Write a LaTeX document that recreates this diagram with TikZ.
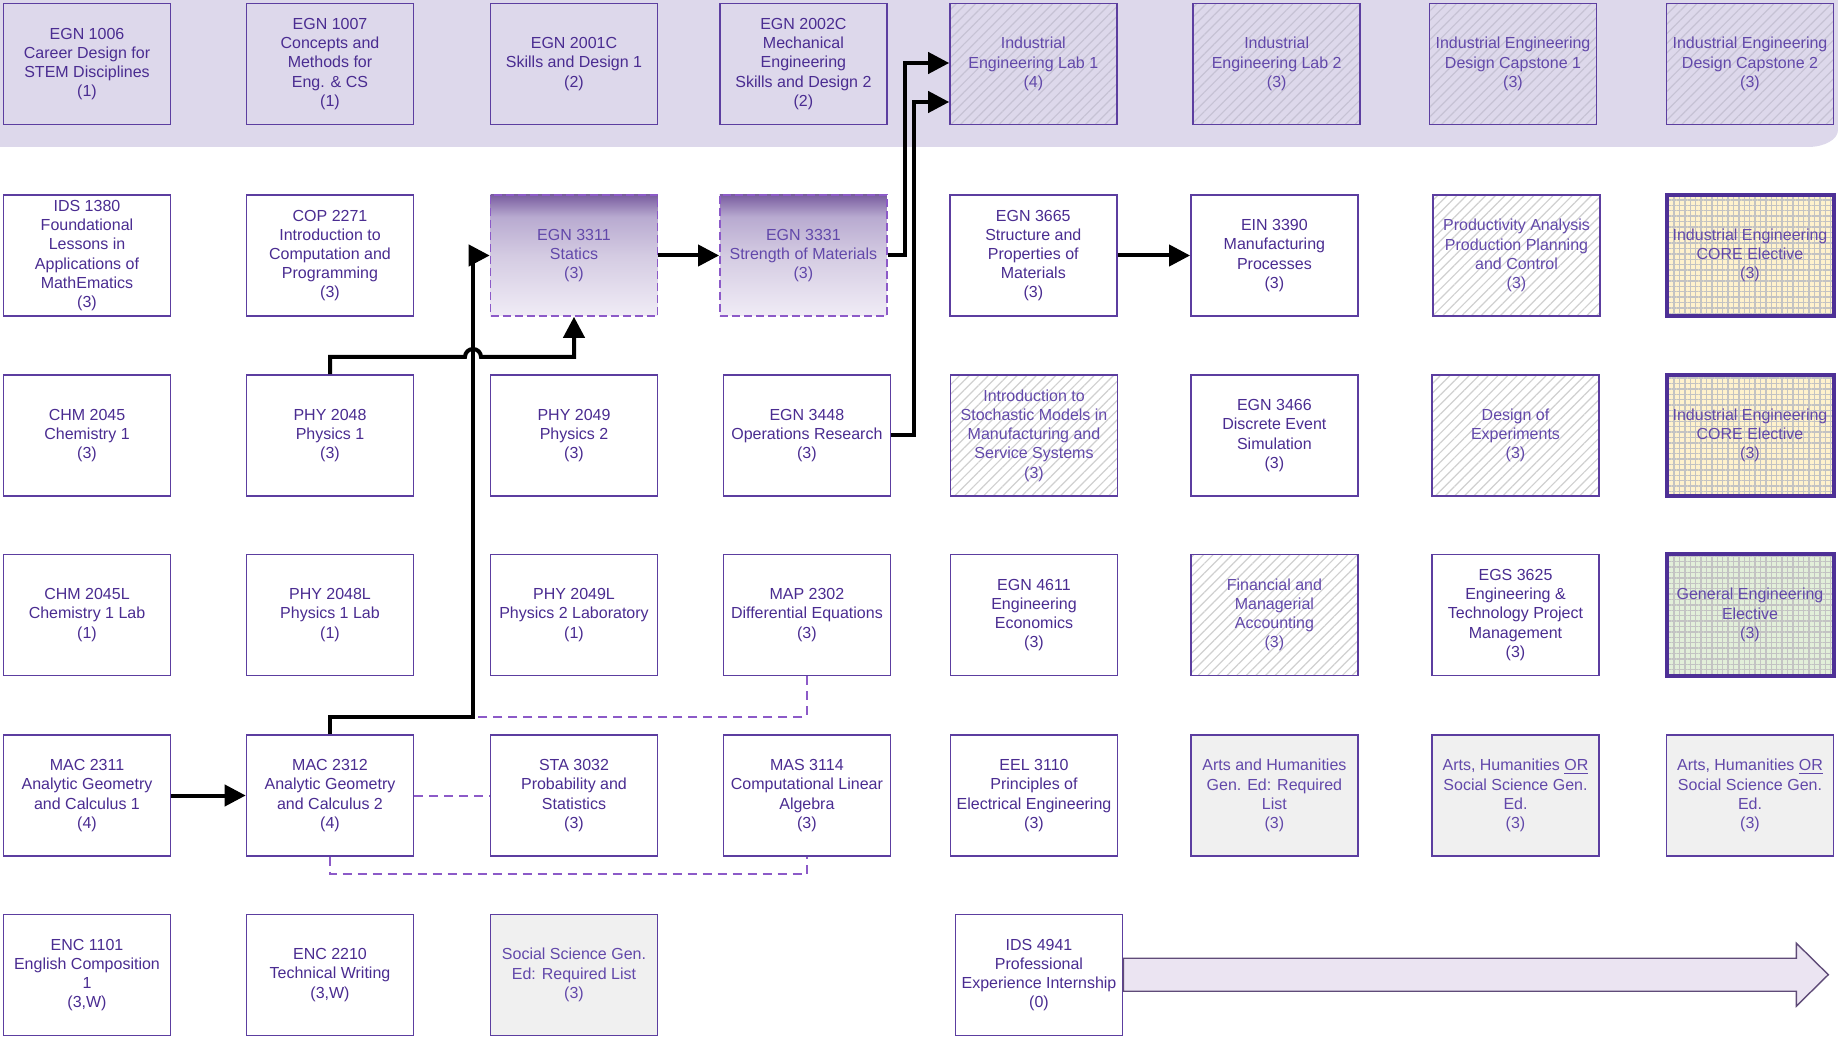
\documentclass[tikz,border=0pt]{standalone}
\usepackage{fontspec}
\setmainfont{Liberation Sans}
\usetikzlibrary{arrows.meta,patterns.meta}

\definecolor{bandfill}{RGB}{221,216,235}
\definecolor{courseline}{RGB}{92,62,160}
\definecolor{coursetext}{RGB}{74,44,145}
\definecolor{softtext}{RGB}{98,72,170}
\definecolor{hatchgrey}{RGB}{208,208,208}
\definecolor{bandhatch}{RGB}{198,194,212}
\definecolor{gridgrey}{RGB}{195,195,195}
\definecolor{coreyellow}{RGB}{255,242,204}
\definecolor{gegreen}{RGB}{226,239,217}
\definecolor{genedgrey}{RGB}{240,240,240}
\definecolor{electline}{RGB}{78,48,150}
\definecolor{coreqline}{RGB}{140,90,200}
\definecolor{gradtop}{RGB}{122,94,160}
\definecolor{gradupper}{RGB}{184,170,208}
\definecolor{gradmid}{RGB}{212,203,226}
\definecolor{gradbot}{RGB}{240,236,246}
\definecolor{internfill}{RGB}{235,228,242}
\definecolor{internline}{RGB}{95,75,120}

\pgfdeclareverticalshading{currentgrad}{100bp}{color(0bp)=(gradbot); color(25bp)=(gradbot); color(50bp)=(gradmid); color(66bp)=(gradupper); color(75bp)=(gradtop); color(100bp)=(gradtop)}

\tikzset{
  box/.style={draw=courseline, line width=0.8pt, text=coursetext, align=center,
    minimum width=83.5pt, minimum height=60.5pt, inner sep=1pt,
    font=\fontsize{8}{9.6}\selectfont},
  course/.style={box, fill=white},
  seminar/.style={box, fill=bandfill},
  labbox/.style={box, text=softtext, preaction={fill=bandfill},
    pattern={Lines[angle=45,distance=3.4pt,line width=0.6pt]}, pattern color=bandhatch},
  hatchbox/.style={box, text=softtext, preaction={fill=white},
    pattern={Lines[angle=45,distance=3.4pt,line width=0.6pt]}, pattern color=hatchgrey},
  currentbox/.style={box, text=softtext, draw=coreqline, dash pattern=on 4pt off 2pt,
    shade, shading=currentgrad},
  corebox/.style={box, text=softtext, draw=electline, line width=2pt, preaction={fill=coreyellow},
    pattern={Hatch[angle=0,distance=2.7pt,line width=0.7pt]}, pattern color=gridgrey},
  gebox/.style={corebox, preaction={fill=gegreen}},
  genedbox/.style={box, text=softtext, fill=genedgrey},
  prereq/.style={line width=2pt, -{Triangle[length=10.5pt,width=10.5pt]}},
  coreq/.style={draw=coreqline, line width=1pt, dash pattern=on 4.5pt off 3pt},
}

\begin{document}
\begin{tikzpicture}[x=0.5pt,y=-0.5pt]
  \useasboundingbox (0,0) rectangle (1838,1037);

  % First year band
  \fill[bandfill] (0,0) -- (1838,0) -- (1838,130)
    arc[start angle=0,end angle=90,x radius=30,y radius=17] -- (0,147) -- cycle;

  % Row 1
  \node[seminar] (egn1006) at (87,64) {EGN 1006\\Career Design for\\STEM Disciplines\\(1)};
  \node[seminar] (egn1007) at (330,64) {EGN 1007\\Concepts and\\Methods for\\Eng. \& CS\\(1)};
  \node[seminar] (egn2001) at (574,64) {EGN 2001C\\Skills and Design 1\\(2)};
  \node[seminar] (egn2002) at (803.4,64) {EGN 2002C\\Mechanical\\Engineering\\Skills and Design 2\\(2)};
  \node[labbox] (ielab1) at (1033.3,64) {Industrial\\Engineering Lab 1\\(4)};
  \node[labbox] (ielab2) at (1276.7,64) {Industrial\\Engineering Lab 2\\(3)};
  \node[labbox] (capstone1) at (1513,64) {Industrial Engineering\\Design Capstone 1\\(3)};
  \node[labbox] (capstone2) at (1750,64) {Industrial Engineering\\Design Capstone 2\\(3)};

  % Row 2
  \node[course] (ids1380) at (87,255.5) {IDS 1380\\Foundational\\Lessons in\\Applications of\\MathEmatics\\(3)};
  \node[course] (cop2271) at (330,255.5) {COP 2271\\Introduction to\\Computation and\\Programming\\(3)};
  \node[currentbox] (egn3311) at (574,255.5) {EGN 3311\\Statics\\(3)};
  \node[currentbox] (egn3331) at (803.4,255.5) {EGN 3331\\Strength of Materials\\(3)};
  \node[course] (egn3665) at (1033.3,255.5) {EGN 3665\\Structure and\\Properties of\\Materials\\(3)};
  \node[course] (ein3390) at (1274.4,255.5) {EIN 3390\\Manufacturing\\Processes\\(3)};
  \node[hatchbox] (prodplan) at (1516.5,255.5) {Productivity Analysis\\Production Planning\\and Control\\(3)};
  \node[corebox] (corea) at (1750,255.5) {Industrial Engineering\\CORE Elective\\(3)};

  % Row 3
  \node[course] (chm2045) at (87,435.5) {CHM 2045\\Chemistry 1\\(3)};
  \node[course] (phy2048) at (330,435.5) {PHY 2048\\Physics 1\\(3)};
  \node[course] (phy2049) at (574,435.5) {PHY 2049\\Physics 2\\(3)};
  \node[course] (egn3448) at (806.9,435.5) {EGN 3448\\Operations Research\\(3)};
  \node[hatchbox] (stochastic) at (1034,435.5) {Introduction to\\Stochastic Models in\\Manufacturing and\\Service Systems\\(3)};
  \node[course] (egn3466) at (1274.4,435.5) {EGN 3466\\Discrete Event\\Simulation\\(3)};
  \node[hatchbox] (doe) at (1515.5,435.5) {Design of\\Experiments\\(3)};
  \node[corebox] (coreb) at (1750,435.5) {Industrial Engineering\\CORE Elective\\(3)};

  % Row 4
  \node[course] (chm2045l) at (87,615) {CHM 2045L\\Chemistry 1 Lab\\(1)};
  \node[course] (phy2048l) at (330,615) {PHY 2048L\\Physics 1 Lab\\(1)};
  \node[course] (phy2049l) at (574,615) {PHY 2049L\\Physics 2 Laboratory\\(1)};
  \node[course] (map2302) at (806.9,615) {MAP 2302\\Differential Equations\\(3)};
  \node[course] (egn4611) at (1034,615) {EGN 4611\\Engineering\\Economics\\(3)};
  \node[hatchbox] (accounting) at (1274.4,615) {Financial and\\Managerial\\Accounting\\(3)};
  \node[course] (egs3625) at (1515.5,615) {EGS 3625\\Engineering \&\\Technology Project\\Management\\(3)};
  \node[gebox] (geelective) at (1750,615) {General Engineering\\Elective\\(3)};

  % Row 5
  \node[course] (mac2311) at (87,795.5) {MAC 2311\\Analytic Geometry\\and Calculus 1\\(4)};
  \node[course] (mac2312) at (330,795.5) {MAC 2312\\Analytic Geometry\\and Calculus 2\\(4)};
  \node[course] (sta3032) at (574,795.5) {STA 3032\\Probability and\\Statistics\\(3)};
  \node[course] (mas3114) at (806.9,795.5) {MAS 3114\\Computational Linear\\Algebra\\(3)};
  \node[course] (eel3110) at (1034,795.5) {EEL 3110\\Principles of\\Electrical Engineering\\(3)};
  \node[genedbox] (artshum) at (1274.4,795.5) {Arts and Humanities\\Gen. Ed: Required\\List\\(3)};
  \node[genedbox] (artsora) at (1515.5,795.5) {Arts, Humanities \underline{OR}\\Social Science Gen.\\Ed.\\(3)};
  \node[genedbox] (artsorb) at (1750,795.5) {Arts, Humanities \underline{OR}\\Social Science Gen.\\Ed.\\(3)};

  % Row 6
  \node[course] (enc1101) at (87,975) {ENC 1101\\English Composition\\1\\(3,W)};
  \node[course] (enc2210) at (330,975) {ENC 2210\\Technical Writing\\(3,W)};
  \node[genedbox] (socsci) at (574,975) {Social Science Gen.\\Ed: Required List\\(3)};
  \node[course] (ids4941) at (1039,975) {IDS 4941\\Professional\\Experience Internship\\(0)};

  % Bend points
  \coordinate (calcjog) at (473,716.7);

  % Corequisites
  \draw[coreq] (map2302.south) |- (calcjog);
  \draw[coreq] (mac2312.east) -- (sta3032.west);
  \draw[coreq] (mac2312.south) -- ++(0,17.5) -| (mas3114.south);

  % Prerequisites
  \draw[prereq] (mac2311.east) -- (mac2312.west);
  \draw[prereq] (mac2312.north) |- (calcjog) |- (egn3311.west);
  \draw[prereq] (phy2048.north) |- (465,357)
    arc[start angle=180,end angle=360,radius=8] -| (egn3311.south);
  \draw[prereq] (egn3311.east) -- (egn3331.west);
  \draw[prereq] (egn3331.east) -- ++(17,0) |- ([yshift=0.5pt]ielab1.west);
  \draw[prereq] (egn3448.east) -- ++(23,0) |- ([yshift=-19pt]ielab1.west);
  \draw[prereq] (egn3665.east) -- (ein3390.west);

  % Internship arrow
  \draw[internline, fill=internfill, line width=0.7pt] ([yshift=8.4pt]ids4941.east) -- ++(673,0)
    -- ++(0,-15) -- ++(32,31.5) -- ++(-32,31.5) -- ++(0,-15) -- ++(-673,0) -- cycle;
\end{tikzpicture}
\end{document}
